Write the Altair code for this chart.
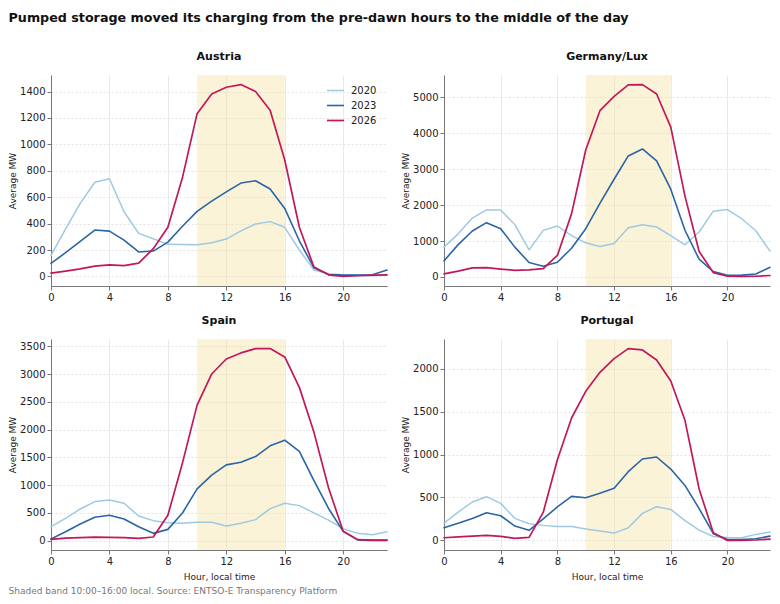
import altair as alt
import pandas as pd

hours = list(range(24))
years = ["2020", "2023", "2026"]
year_colors = ["#9ecae1", "#2b65a6", "#c2185b"]
year_widths = [1.5, 1.7, 2.6]

austria_2020 = [160, 360, 553, 713, 740, 490, 326, 285, 243, 241, 240, 255, 283, 345, 397, 415, 372, 200, 48, 20, 12, 8, 5, 10]
austria_2023 = [98, 180, 265, 351, 343, 275, 185, 192, 260, 380, 493, 570, 640, 707, 725, 662, 515, 270, 65, 15, 10, 10, 12, 48]
austria_2026 = [25, 40, 57, 78, 88, 82, 100, 210, 372, 750, 1233, 1382, 1433, 1453, 1400, 1259, 882, 372, 71, 12, 0, 5, 10, 12]

germany_2020 = [830, 1200, 1640, 1865, 1865, 1455, 755, 1297, 1418, 1150, 950, 850, 933, 1371, 1455, 1390, 1150, 895, 1250, 1830, 1875, 1620, 1287, 718]
germany_2023 = [448, 900, 1278, 1511, 1343, 830, 400, 300, 410, 800, 1343, 2050, 2720, 3368, 3563, 3228, 2444, 1300, 494, 150, 47, 50, 80, 270]
germany_2026 = [84, 160, 252, 261, 220, 185, 195, 233, 597, 1763, 3535, 4627, 5028, 5345, 5354, 5093, 4170, 2250, 709, 120, 20, 15, 20, 40]

spain_2020 = [253, 400, 571, 704, 734, 674, 445, 361, 325, 315, 331, 331, 265, 313, 379, 577, 674, 631, 500, 370, 216, 132, 108, 162]
spain_2023 = [30, 160, 300, 421, 457, 391, 250, 132, 204, 499, 932, 1179, 1365, 1413, 1515, 1708, 1810, 1606, 1080, 580, 168, 15, 5, 5]
spain_2026 = [24, 45, 55, 65, 60, 55, 42, 66, 457, 1400, 2441, 3001, 3271, 3380, 3458, 3458, 3307, 2760, 1950, 950, 168, 18, 10, 10]

portugal_2020 = [202, 330, 447, 509, 431, 256, 194, 175, 163, 163, 132, 110, 85, 148, 315, 392, 361, 230, 120, 45, 35, 30, 70, 97]
portugal_2023 = [148, 200, 255, 322, 287, 167, 117, 250, 390, 513, 497, 550, 606, 800, 948, 971, 831, 640, 370, 78, 10, 10, 20, 50]
portugal_2026 = [31, 40, 50, 58, 48, 23, 35, 326, 940, 1425, 1736, 1957, 2116, 2233, 2217, 2101, 1856, 1398, 598, 89, 0, 0, 5, 15]

y_ticks = {
    "Austria": [0, 200, 400, 600, 800, 1000, 1200, 1400],
    "Germany/Lux": [0, 1000, 2000, 3000, 4000, 5000],
    "Spain": [0, 500, 1000, 1500, 2000, 2500, 3000, 3500],
    "Portugal": [0, 500, 1000, 1500, 2000],
}
x_ticks = [0, 4, 8, 12, 16, 20]
band_start = [10]
band_end = [16]

series = {
    "Austria": [austria_2020, austria_2023, austria_2026],
    "Germany/Lux": [germany_2020, germany_2023, germany_2026],
    "Spain": [spain_2020, spain_2023, spain_2026],
    "Portugal": [portugal_2020, portugal_2023, portugal_2026],
}

W_LEFT, W_RIGHT, H = 336, 326, 211
FONT = "DejaVu Sans"


def panel(name, width, show_legend, show_xtitle):
    rows = []
    for yr, vals in zip(years, series[name]):
        for h, v in zip(hours, vals):
            rows.append({"hour": h, "mw": v, "year": yr})
    df = pd.DataFrame(rows)
    lo, hi = df["mw"].min(), df["mw"].max()
    pad = 0.05 * (hi - lo)
    xaxis = alt.Axis(values=x_ticks, title="Hour, local time" if show_xtitle else None,
                     format="d", labelFlush=False)
    xscale = alt.Scale(domain=[0, 23], nice=False, zero=False)
    band_df = pd.DataFrame({"hour": band_start, "hour_end": band_end})
    band = alt.Chart(band_df).mark_rect(color="#f6e09a", opacity=0.4).encode(
        x=alt.X("hour:Q", scale=xscale, axis=xaxis),
        x2="hour_end:Q",
        y=alt.value(0),
        y2=alt.value(H),
    )
    if show_legend:
        legend = alt.Legend(orient="none", legendX=275, legendY=6, title=None,
                            symbolType="stroke", symbolSize=290, labelFontSize=10,
                            labelColor="#222", labelFont=FONT, rowPadding=-7, padding=0,
                            labelOffset=6)
    else:
        legend = None
    lines = alt.Chart(df).mark_line(strokeCap="round", strokeJoin="round").encode(
        x=alt.X("hour:Q", scale=xscale, axis=xaxis),
        y=alt.Y("mw:Q", scale=alt.Scale(domain=[lo - pad, hi + pad], nice=False, zero=False),
                axis=alt.Axis(values=y_ticks[name], title="Average MW", format="d")),
        color=alt.Color("year:N", scale=alt.Scale(domain=years, range=year_colors), legend=legend),
        strokeWidth=alt.StrokeWidth("year:N", scale=alt.Scale(domain=years, range=year_widths), legend=legend),
    )
    return alt.layer(band, lines).properties(
        width=width, height=H,
        title=alt.TitleParams(name, fontSize=11, fontWeight="bold", font=FONT, color="#111", offset=13),
    )


def row(a, b):
    return alt.hconcat(a, b, spacing=13).resolve_scale(
        color="independent", strokeWidth="independent").resolve_legend(
        color="independent", strokeWidth="independent")


grid = alt.vconcat(
    row(panel("Austria", W_LEFT, True, False), panel("Germany/Lux", W_RIGHT, False, False)),
    row(panel("Spain", W_LEFT, False, True), panel("Portugal", W_RIGHT, False, True)),
    spacing=13,
).resolve_scale(color="independent", strokeWidth="independent").resolve_legend(
    color="independent", strokeWidth="independent"
).properties(
    title=alt.TitleParams("Shaded band 10:00\u201316:00 local. Source: ENTSO-E Transparency Platform",
                          orient="bottom", anchor="start", fontSize=9, fontWeight="normal",
                          font=FONT, color="#777", offset=6)
)

chart = alt.vconcat(grid).properties(
    title=alt.TitleParams("Pumped storage moved its charging from the pre-dawn hours to the middle of the day",
                          anchor="start", fontSize=12.7, fontWeight="bold", font=FONT, color="#111", offset=26),
    padding={"top": 4, "left": 0, "right": 0, "bottom": 0},
).configure_view(stroke=None).configure_axis(
    labelFont=FONT, labelFontSize=10, labelColor="#222", titleFont=FONT, titleFontSize=9,
    titleFontWeight="normal", titleColor="#222", tickColor="#777", domainColor="#777",
    tickSize=4, labelPadding=2, titlePadding=2, gridColor="#e4e4ea", gridWidth=0.8,
).configure_axisY(gridDash=[2, 2], gridColor="#dcdcdc").configure_axisX(titlePadding=6)

chart.save("out.html", embed_options={"renderer": "svg", "actions": False})
